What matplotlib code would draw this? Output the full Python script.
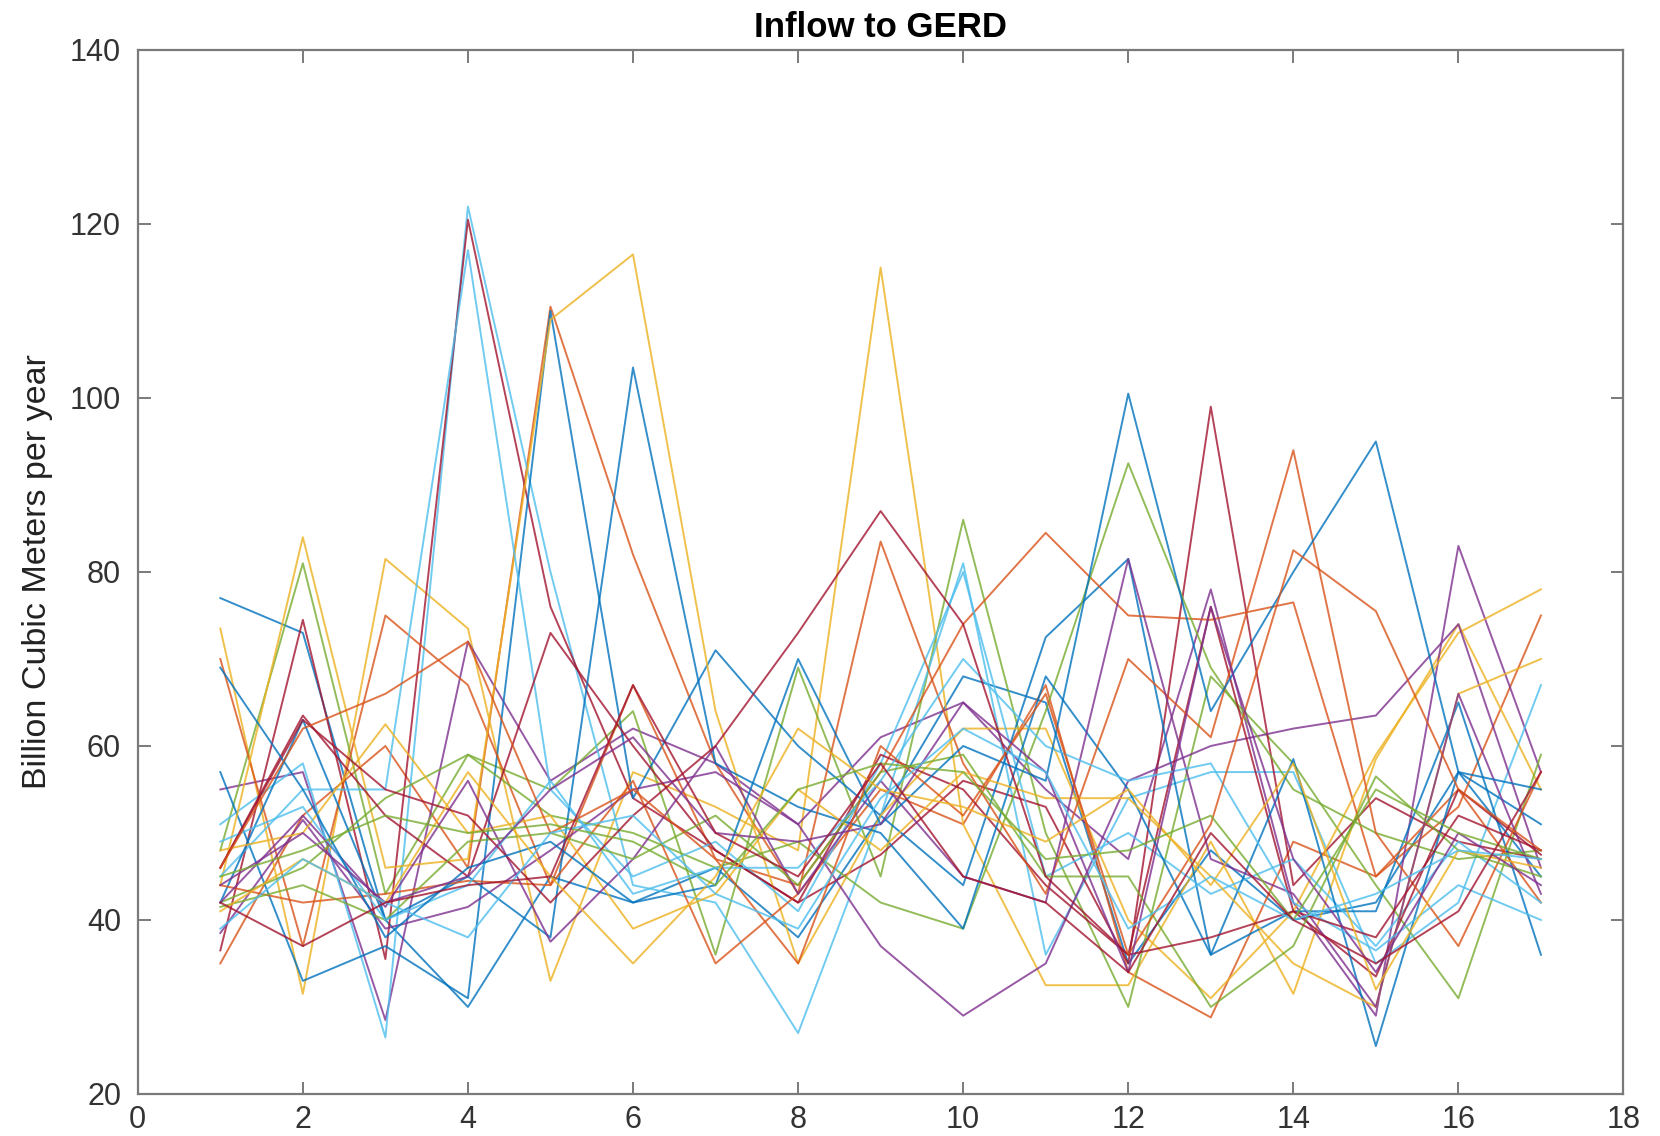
import numpy as np
import matplotlib
matplotlib.use('Agg')
import matplotlib.pyplot as plt

plt.rcParams['font.family'] = ['Liberation Sans', 'DejaVu Sans']

years = np.arange(1, 18)

# MATLAB default line colour order
colors = ['#0072BD', '#D95319', '#EDB120', '#7E2F8E', '#77AC30', '#4DBEEE', '#A2142F']

# inflow series (billion m3 / yr)
s01 = [77, 73, 40, 30, 45, 42, 46, 38, 52, 68, 65, 35, 48, 40, 42, 57, 45]
s02 = [35, 52, 60, 46, 110.5, 82, 58, 43, 55, 51, 67, 34, 28.8, 49, 45, 53, 75]
s03 = [73.5, 31.5, 81.5, 73.5, 33, 57, 53, 48, 115, 51, 32.5, 32.5, 49, 31.5, 58.5, 74, 55]
s04 = [55, 57, 28.5, 72, 56, 62, 58, 51, 61, 65, 55, 47, 78, 42, 29, 83, 57]
s05 = [48, 81, 43, 59, 55, 64, 36, 69, 45, 86, 50, 30, 68, 58, 44, 31, 59]
s06 = [51, 58, 26.5, 122, 80, 44, 42, 27, 52, 81, 36, 54, 57, 57, 35, 42, 67]
s07 = [36.5, 74.5, 35.5, 120.5, 76, 54, 48, 42, 47.5, 56, 53, 35, 99, 44, 54, 49, 47]
s08 = [57, 33, 37, 31, 110, 54, 71, 60, 52, 44, 72.5, 81.5, 36, 41, 41, 65, 36]
s09 = [70, 37, 75, 67, 44, 67, 47, 44, 57, 74, 84.5, 75, 74.5, 76.5, 45, 55, 42]
s10 = [44, 84, 46, 47, 109, 116.5, 64, 35, 52, 62, 62, 40, 31, 41, 59, 73, 78]
s11 = [38.5, 51.5, 39, 41.5, 48, 55, 57, 51, 37, 29, 35, 56, 60, 62, 63.5, 74, 46]
s12 = [42, 46, 54, 59, 52, 50, 46, 49, 42, 39, 64, 92.5, 69, 55, 50, 47, 48]
s13 = [45, 55, 55, 117, 55, 45, 49, 41, 58, 80, 45, 50, 43, 47, 37, 49, 42]
s14 = [46, 63.5, 52, 45, 73, 60, 48, 42, 59, 55, 44, 36, 76, 41, 33.5, 55, 47.5]
s15 = [42, 63, 40, 45, 38, 103.5, 58, 53, 50, 39, 68, 55, 36, 58.5, 25.5, 57, 51]
s16 = [44, 42, 43, 44.5, 44, 56, 35, 43, 83.5, 58, 43, 70, 61, 94, 50, 37, 57]
s17 = [48, 50, 62.5, 50, 52, 39, 43, 55, 48, 57, 54, 54, 45, 35, 30, 66, 70]
s18 = [42, 52, 41.5, 56, 37.5, 47, 60, 43, 56, 45, 42, 81.5, 47, 43, 30, 66, 43]
s19 = [41.5, 44, 40, 49, 50, 47, 52, 44, 57, 59, 45, 45, 30, 37, 56.5, 48, 45]
s20 = [49, 53, 40, 44, 56, 43, 46, 46, 56, 70, 60, 56, 58, 42, 36.5, 44, 40]
s21 = [46, 63, 55, 52, 42, 52, 60, 73, 87, 74, 45, 36, 38, 41, 38, 52, 48]
s22 = [69, 55, 38, 46, 49, 42, 44, 70, 51, 60, 56, 100.5, 64, 80, 95, 57, 55]
s23 = [46, 62, 66, 72, 50, 55, 47, 35, 60, 52, 66, 36, 51, 82.5, 75.5, 55, 48]
s24 = [41, 47, 42, 57, 45, 35, 45, 62, 55, 53, 49, 55, 44, 58, 32, 48, 46]
s25 = [44, 50, 42, 45, 55, 61, 50, 49, 51, 65, 57, 34, 76, 47, 34, 50, 44]
s26 = [45, 48, 52, 50, 51, 49, 44, 55, 58, 57, 47, 48, 52, 40, 55, 50, 47]
s27 = [39, 47, 42, 38, 50, 52, 43, 39, 54, 62, 57, 39, 45, 40, 43, 48, 47]
s28 = [42, 37, 42, 44, 45, 67, 50, 45, 58, 45, 42, 34, 50, 40, 35, 41, 57]

series = [s01, s02, s03, s04, s05, s06, s07, s08, s09, s10, s11, s12, s13, s14,
          s15, s16, s17, s18, s19, s20, s21, s22, s23, s24, s25, s26, s27, s28]

fig = plt.figure(figsize=(16.6, 11.36), dpi=100)
ax = fig.add_axes([0.083, 0.037, 0.895, 0.919])

for i, s in enumerate(series):
    ax.plot(years, s, color=colors[i % 7], lw=1.4, alpha=0.8)

ax.set_xlim(0, 18)
ax.set_ylim(20, 140)
ax.set_xticks(np.arange(0, 19, 2))
ax.set_yticks(np.arange(20, 141, 20))

axcol = '#7a7a7a'
for sp in ax.spines.values():
    sp.set_color(axcol)
    sp.set_linewidth(1.6)
ax.tick_params(direction='in', length=9, width=1.4, color=axcol,
               top=True, right=True, labelsize=22, labelcolor='#333333')
ax.tick_params(axis='x', pad=8)
ax.tick_params(axis='y', pad=12)

ax.set_title('Inflow to GERD', fontsize=25, fontweight='bold', pad=9)
ax.set_ylabel('Billion Cubic Meters per year', fontsize=24.5, color='#222222', labelpad=12)

fig.savefig('out.png', dpi=100)
